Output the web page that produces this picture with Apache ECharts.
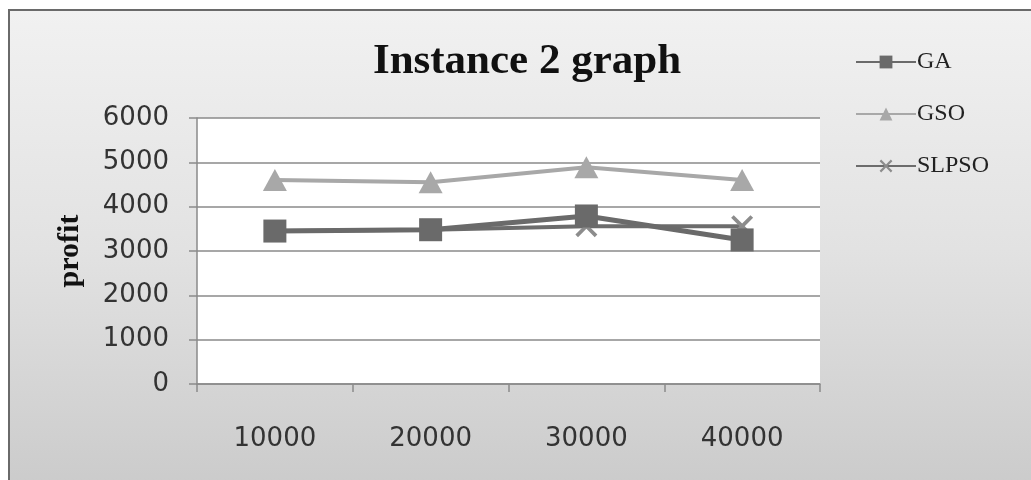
<!DOCTYPE html>
<html>
<head>
<meta charset="utf-8">
<script src="https://cdn.jsdelivr.net/npm/echarts@6/dist/echarts.min.js"></script>
<style>
    html, body { margin: 0; padding: 0; background: #fff; }
    #frame {
        position: absolute; left: 8px; top: 9px; width: 1030px; height: 480px;
        border: 2px solid #6a6a6a; box-sizing: border-box;
        background: linear-gradient(to bottom, #f1f1f1 0%, #e2e2e2 50%, #cbcbcb 100%);
    }
    #chart { position: absolute; left: 0; top: 0; width: 1031px; height: 480px; }
</style>
</head>
<body>
<div id="frame"></div>
<div id="chart"></div>
<script>
// data
var categories = ['10000', '20000', '30000', '40000'];
var gaValues = [3450, 3480, 3790, 3250];
var gsoValues = [4600, 4550, 4890, 4600];
var slpsoValues = [3450, 3480, 3560, 3560];

var crossPath = 'path://M0,1.2L1.2,0L5,3.8L8.8,0L10,1.2L6.2,5L10,8.8L8.8,10L5,6.2L1.2,10L0,8.8L3.8,5Z';

var chart = echarts.init(document.getElementById('chart'));

var option = {
    backgroundColor: 'transparent',
    animation: false,
    title: {
        text: 'Instance 2 graph',
        left: 522,
        top: 35,
        textAlign: 'center',
        textStyle: {
            fontFamily: 'Liberation Serif',
            fontSize: 43,
            fontWeight: 'bold',
            color: '#111'
        }
    },
    legend: {
        orient: 'vertical',
        left: 850,
        top: 45,
        itemWidth: 60,
        itemHeight: 16,
        itemGap: 28,
        data: ['GA', 'GSO', 'SLPSO'],
        textStyle: {
            fontFamily: 'Liberation Serif',
            fontSize: 24,
            color: '#222',
            padding: [0, 0, 0, -4]
        }
    },
    grid: {
        left: 197,
        right: 211,
        top: 118,
        bottom: 96,
        show: true,
        backgroundColor: '#ffffff',
        borderWidth: 0
    },
    xAxis: {
        type: 'category',
        data: categories,
        boundaryGap: true,
        axisLine: { lineStyle: { color: '#8a8a8a', width: 1.5 } },
        axisTick: { show: true, length: 8, interval: 0, lineStyle: { color: '#8a8a8a', width: 1.5 } },
        axisLabel: {
            margin: 42,
            fontFamily: 'DejaVu Sans',
            fontSize: 26,
            color: '#333'
        }
    },
    yAxis: {
        type: 'value',
        min: 0,
        max: 6000,
        interval: 1000,
        name: 'profit',
        nameLocation: 'middle',
        nameGap: 112,
        nameTextStyle: {
            fontFamily: 'Liberation Serif',
            fontSize: 30,
            fontWeight: 'bold',
            color: '#111'
        },
        axisLine: { show: true, lineStyle: { color: '#8a8a8a', width: 1.5 } },
        axisTick: { show: true, length: 8, lineStyle: { color: '#8a8a8a', width: 1.5 } },
        splitLine: { lineStyle: { color: '#8a8a8a', width: 1.5 } },
        axisLabel: {
            margin: 28,
            fontFamily: 'DejaVu Sans',
            fontSize: 26,
            color: '#333',
            formatter: function (v) { return String(v); }
        }
    },
    series: [
        {
            name: 'GSO',
            type: 'line',
            data: gsoValues,
            symbol: 'triangle',
            symbolSize: [24, 22],
            color: '#a8a8a8',
            lineStyle: { color: '#a8a8a8', width: 4 },
            itemStyle: { color: '#a8a8a8' },
            z: 2
        },
        {
            name: 'SLPSO',
            type: 'line',
            data: slpsoValues,
            symbol: crossPath,
            symbolSize: 22,
            color: '#727272',
            lineStyle: { color: '#6c6c6c', width: 4 },
            itemStyle: { color: '#8c8c8c' },
            z: 3
        },
        {
            name: 'GA',
            type: 'line',
            data: gaValues,
            symbol: 'rect',
            symbolSize: 23,
            color: '#6a6a6a',
            lineStyle: { color: '#6a6a6a', width: 5 },
            itemStyle: { color: '#6a6a6a' },
            z: 4
        }
    ]
};

chart.setOption(option);
</script>
</body>
</html>
